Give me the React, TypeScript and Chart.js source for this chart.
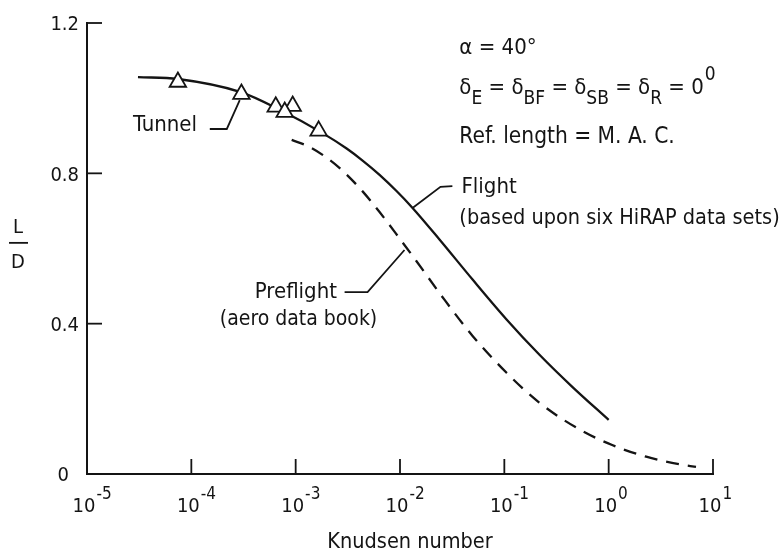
import React, { useEffect, useRef } from 'react';
import { Chart, registerables } from 'chart.js';

Chart.register(...registerables);

// ---- data ----
const xTicks = [1e-5, 1e-4, 1e-3, 1e-2, 1e-1, 1e0, 1e1];
const yTicks = [0, 0.4, 0.8, 1.2];
const yTickLabels = ['0', '0.4', '0.8', '1.2'];

const flightX = [3.08e-5, 7.43e-5, 2.98e-4, 7.03e-4, 1.81e-3, 3.08e-3, 4.38e-3, 6.37e-3, 9.26e-3, 1.32e-2, 2.39e-2, 4.94e-2, 1.045e-1, 2.16e-1, 4.48e-1, 1.0];
const flightY = [1.056, 1.051, 1.016, 0.969, 0.907, 0.866, 0.834, 0.796, 0.753, 0.708, 0.624, 0.518, 0.412, 0.318, 0.232, 0.144];

const preflightX = [9.16e-4, 1.36e-3, 2.11e-3, 2.94e-3, 4.38e-3, 6.37e-3, 9.89e-3, 1.44e-2, 2.55e-2, 4.94e-2, 1.045e-1, 2.16e-1, 5.22e-1, 1.08, 2.29, 4.73, 6.87];
const preflightY = [0.889, 0.870, 0.836, 0.802, 0.752, 0.697, 0.627, 0.566, 0.471, 0.368, 0.270, 0.190, 0.119, 0.077, 0.046, 0.026, 0.019];

const tunnelX = [7.43e-5, 3.02e-4, 6.44e-4, 9.36e-4, 7.85e-4, 1.66e-3];
const tunnelY = [1.043, 1.011, 0.977, 0.979, 0.963, 0.913];

const FONT = '"DejaVu Sans Condensed", "DejaVu Sans", sans-serif';
const INK = '#141414';

const overlay = {
  id: 'overlay',
  afterDraw(chart: any) {
    const { ctx, chartArea: a, scales } = chart;
    const xs = scales.x;
    const ys = scales.y;
    const X = (e: number) => xs.getPixelForValue(Math.pow(10, e));
    const Y = (v: number) => ys.getPixelForValue(v);
    const line = (pts: number[][], w = 2) => {
      ctx.beginPath();
      ctx.lineWidth = w;
      pts.forEach((p, i) => (i ? ctx.lineTo(p[0], p[1]) : ctx.moveTo(p[0], p[1])));
      ctx.stroke();
    };
    const text = (s: string, x: number, y: number, size = 22, align: CanvasTextAlign = 'left') => {
      ctx.font = `${size}px ${FONT}`;
      ctx.textAlign = align;
      ctx.fillText(s, x, y);
      return ctx.measureText(s).width;
    };
    ctx.save();
    ctx.strokeStyle = INK;
    ctx.fillStyle = INK;
    ctx.textBaseline = 'middle';
    ctx.lineCap = 'butt';

    // inward ticks
    xs.ticks.forEach((t: any) => {
      const x = xs.getPixelForValue(t.value);
      line([[x, a.bottom], [x, a.bottom - 15]], 1.8);
    });
    ys.ticks.forEach((t: any) => {
      const y = ys.getPixelForValue(t.value);
      line([[a.left, y], [a.left + 15, y]], 1.8);
    });

    // y tick labels
    ys.ticks.forEach((t: any, i: number) => {
      const y = ys.getPixelForValue(t.value) + 2;
      text(yTickLabels[i], a.left - (t.value === 0 ? 18 : 8), y, 20, 'right');
    });

    // x tick labels (10^n)
    xs.ticks.forEach((t: any) => {
      const x = xs.getPixelForValue(t.value);
      const ex = Math.round(Math.log10(t.value));
      const w = text('10', x - 3, a.bottom + 33, 20, 'center');
      text(String(ex), x - 3 + w / 2 + 1, a.bottom + 21, 17, 'left');
    });

    // axis titles
    text('Knudsen number', (a.left + a.right) / 2 + 10, a.bottom + 68, 21.5, 'center');
    const ly = Y(0.615);
    text('L', a.left - 69, ly - 15, 20, 'center');
    line([[a.left - 78, ly], [a.left - 59, ly]], 1.8);
    text('D', a.left - 69, ly + 20, 20, 'center');

    // conditions block
    const bx = X(-1.431);
    text('\u03B1 = 40\u00B0', bx, Y(1.134), 22);
    let cx = bx;
    const dy = Y(1.027);
    const parts: [string, string][] = [
      ['\u03B4', 'n'], ['E', 'sub'], [' = \u03B4', 'n'], ['BF', 'sub'], [' = \u03B4', 'n'], ['SB', 'sub'],
      [' = \u03B4', 'n'], ['R', 'sub'], [' = 0', 'n'], ['0', 'sup'],
    ];
    parts.forEach(([s, k]) => {
      if (k === 'n') cx += text(s, cx, dy, 22);
      else if (k === 'sub') cx += text(s, cx, dy + 11, 19);
      else cx += text(s, cx + 1, dy - 13, 19);
    });
    text('Ref. length = M. A. C.', bx, Y(0.897), 22.5);

    // Flight label
    text('Flight', X(-1.411), Y(0.764), 22);
    text('(based upon six HiRAP data sets)', bx, Y(0.681), 21.5);
    line([[X(-1.498), Y(0.766)], [X(-1.612), Y(0.764)], [X(-1.88), Y(0.708)]], 1.8);

    // Tunnel label
    text('Tunnel', X(-4.56), Y(0.929), 22);
    line([[X(-3.823), Y(0.918)], [X(-3.66), Y(0.918)], [X(-3.536), Y(0.995)]], 1.8);

    // Preflight label
    text('Preflight', X(-3.392), Y(0.484), 22);
    text('(aero data book)', X(-3.727), Y(0.410), 21);
    line([[X(-2.531), Y(0.484)], [X(-2.311), Y(0.484)], [X(-1.957), Y(0.596)]], 1.8);

    ctx.restore();
  },
};

export default function App() {
  const ref = useRef<HTMLCanvasElement | null>(null);
  useEffect(() => {
    if (!ref.current) return;
    const chart = new Chart(ref.current, {
      type: 'line',
      data: {
        datasets: [
          {
            label: 'Tunnel',
            data: tunnelX.map((x, i) => ({ x, y: tunnelY[i] })),
            showLine: false,
            pointStyle: 'triangle',
            pointRadius: 9.5,
            pointBackgroundColor: '#fff',
            pointBorderColor: INK,
            pointBorderWidth: 1.8,
            order: 0,
          },
          {
            label: 'Flight',
            data: flightX.map((x, i) => ({ x, y: flightY[i] })),
            borderColor: INK,
            borderWidth: 2.3,
            pointRadius: 0,
            cubicInterpolationMode: 'monotone',
            fill: false,
            order: 1,
          },
          {
            label: 'Preflight',
            data: preflightX.map((x, i) => ({ x, y: preflightY[i] })),
            borderColor: INK,
            borderWidth: 2.3,
            borderDash: [13, 9],
            pointRadius: 0,
            cubicInterpolationMode: 'monotone',
            fill: false,
            order: 2,
          },
        ],
      },
      options: {
        animation: false,
        responsive: false,
        devicePixelRatio: 1,
        layout: { padding: { left: 87, top: 23, right: 71, bottom: 79 } },
        plugins: { legend: { display: false }, tooltip: { enabled: false } },
        scales: {
          x: {
            type: 'logarithmic',
            min: 1e-5,
            max: 10,
            afterBuildTicks: (s: any) => {
              s.ticks = xTicks.map((v) => ({ value: v }));
            },
            ticks: { display: false },
            grid: { display: false, drawTicks: false },
            border: { display: true, color: INK, width: 2 },
          },
          y: {
            type: 'linear',
            min: 0,
            max: 1.2,
            afterBuildTicks: (s: any) => {
              s.ticks = yTicks.map((v) => ({ value: v }));
            },
            ticks: { display: false },
            grid: { display: false, drawTicks: false },
            border: { display: true, color: INK, width: 2 },
          },
        },
      },
      plugins: [overlay],
    } as any);
    return () => chart.destroy();
  }, []);
  return (
    <div style={{ position: 'absolute', left: 0, top: 0, width: 784, height: 553, background: '#fff' }}>
      <canvas ref={ref} width={784} height={553} style={{ display: 'block' }} />
    </div>
  );
}
